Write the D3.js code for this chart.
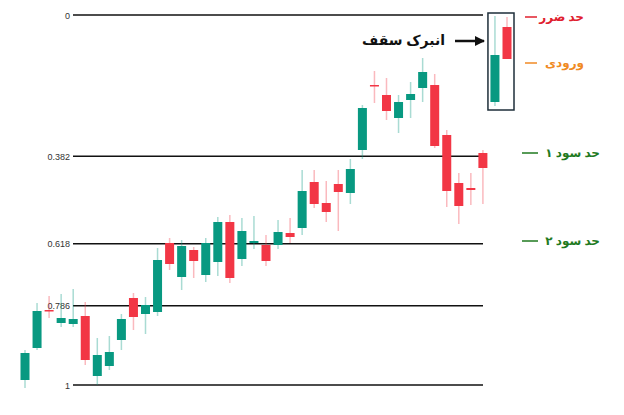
<!DOCTYPE html>
<html><head><meta charset="utf-8">
<script src="https://cdn.jsdelivr.net/npm/d3@7"></script>
<style>body{margin:0;background:#fff}svg{display:block}</style>
</head><body>
<script>
const opens  = [5,37,75,62,61,69,9,19,45,87,71,73,142,108,135,110,123,163,126,142,140,140,152,157,203,182,201,192,235,300,290,267,285,297,300,250,202,197,232,283,358];
const highs  = [35,82,89,91,96,83,47,49,71,92,88,137,147,145,138,147,168,170,167,169,150,165,167,215,215,204,215,226,280,314,307,290,303,327,311,255,212,212,235,369,368];
const lows   = [-3,35,67,58,58,20,0,15,35,55,51,69,115,95,107,103,109,102,119,136,119,136,142,150,177,163,154,181,226,282,265,252,267,283,237,178,161,180,181,279,326];
const closes = [32,74,74,67,66,25,30,33,66,68,80,125,121,139,124,142,163,107,154,144,124,153,148,194,181,173,193,216,277,299,274,283,291,313,239,194,179,195,217,330,326];
const fibLevels = [0,0.382,0.618,0.786,1];
const fibLabels = ["0","0.382","0.618","0.786","1"];
const rightLabels = ["حد ضرر","ورودی","حد سود ۱","حد سود ۲"];
const rightLabelPrices = [368,322,232,144];
const rightColors = ["#e0202e","#f08a24","#1f7a1f","#1f7a1f"];

const W=624,H=415;
const svg=d3.select("body").append("svg").attr("width",W).attr("height",H);
const y=d3.scaleLinear().domain([0,370]).range([385,15]);
const fibY=d3.scaleLinear().domain([0,1]).range([15,385]);
const x=d3.scaleLinear().domain([0,40]).range([25,507]);
const G="#089981",R="#f23645";

fibLevels.forEach((f,i)=>{
  svg.append("line").attr("x1",73).attr("x2",483).attr("y1",fibY(f)).attr("y2",fibY(f))
    .attr("stroke","#111").attr("stroke-width",1.5);
  svg.append("text").attr("x",70).attr("y",fibY(f)+3.5).attr("text-anchor","end")
    .attr("font-family","Arial, Liberation Sans").attr("font-size",9).attr("fill","#333").text(fibLabels[i]);
});

opens.forEach((o,i)=>{
  const c=closes[i],up=c>=o,col=up?G:R;
  svg.append("line").attr("x1",x(i)).attr("x2",x(i)).attr("y1",y(highs[i])).attr("y2",y(lows[i]))
    .attr("stroke",col).attr("stroke-opacity",0.35).attr("stroke-width",1.5);
  const t=y(Math.max(o,c)),b=y(Math.min(o,c));
  svg.append("rect").attr("x",x(i)-4.5).attr("width",9).attr("y",t).attr("height",Math.max(1.5,b-t)).attr("fill",col);
});

// ceiling box
svg.append("rect").attr("x",x(39)-7).attr("y",y(372)).attr("width",x(40)-x(39)+14).attr("height",y(275)-y(372))
  .attr("fill","none").attr("stroke","#1e2e3a").attr("stroke-width",1.5);
svg.append("text").attr("x",445).attr("y",45).attr("text-anchor","end").attr("font-family","Noto Sans, DejaVu Sans")
  .attr("font-weight","bold").attr("font-size",14).attr("fill","#111").text("انبرک سقف");
svg.append("defs").append("marker").attr("id","ar").attr("viewBox","0 0 10 10").attr("refX",9).attr("refY",5)
  .attr("markerWidth",4).attr("markerHeight",4).attr("orient","auto").append("path").attr("d","M0,0L10,5L0,10z").attr("fill","#111");
svg.append("line").attr("x1",455).attr("x2",484).attr("y1",41).attr("y2",41).attr("stroke","#111").attr("stroke-width",2.5).attr("marker-end","url(#ar)");

rightLabels.forEach((t,i)=>{
  const yy=y(rightLabelPrices[i]);
  svg.append("line").attr("x1",i<2?525:522).attr("x2",i<2?537:538).attr("y1",yy).attr("y2",yy).attr("stroke",rightColors[i]).attr("stroke-width",1.5);
  svg.append("text").attr("x",i<2?584:600).attr("y",yy+4).attr("text-anchor","end").attr("font-family","Noto Sans, DejaVu Sans")
    .attr("font-weight","bold").attr("font-size",12).attr("fill",rightColors[i]).text(t);
});
</script>
</body></html>
